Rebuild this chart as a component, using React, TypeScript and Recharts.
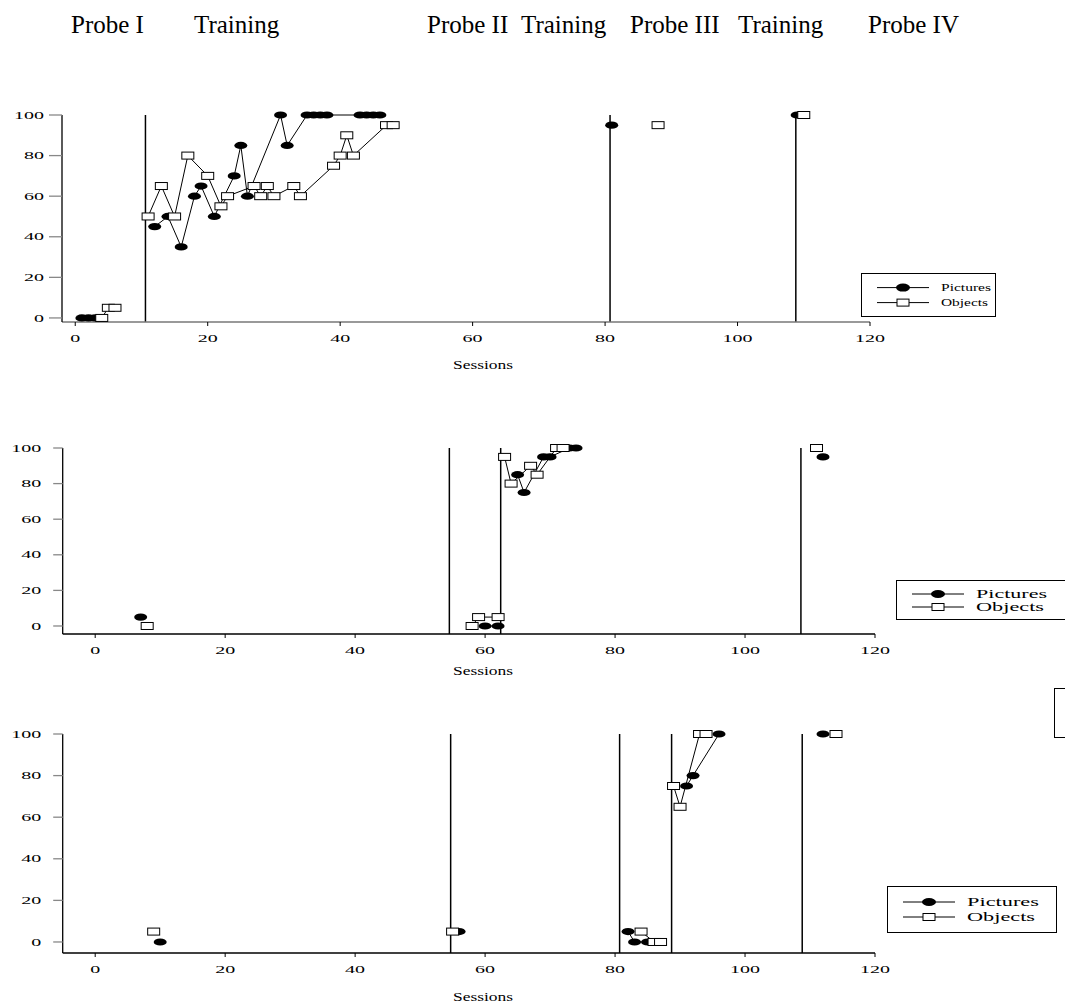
import React from 'react'
import { LineChart, Line, XAxis, YAxis, ReferenceLine, Legend } from 'recharts'

type Pair = [number, number]
type Pt = { session: number; pct: number }

// ---- top panel (sessions, % correct) ----
const aPicturesProbe1: Pair[] = [[1, 0], [2, 0], [3, 0]]
const aPicturesTraining: Pair[] = [
  [12, 45], [14, 50], [16, 35], [18, 60], [19, 65], [21, 50], [24, 70], [25, 85], [26, 60],
  [31, 100], [32, 85], [35, 100], [36, 100], [37, 100], [38, 100], [43, 100], [44, 100], [45, 100], [46, 100],
]
const aPicturesProbe2: Pair[] = [[81, 95]]
const aPicturesProbe4: Pair[] = [[109, 100]]
const aObjectsProbe1: Pair[] = [[4, 0], [5, 5], [6, 5]]
const aObjectsTraining: Pair[] = [
  [11, 50], [13, 65], [15, 50], [17, 80], [20, 70], [22, 55], [23, 60], [27, 65], [28, 60], [29, 65],
  [30, 60], [33, 65], [34, 60], [39, 75], [40, 80], [41, 90], [42, 80], [47, 95], [48, 95],
]
const aObjectsProbe2: Pair[] = [[88, 95]]
const aObjectsProbe4: Pair[] = [[110, 100]]
const aPhaseLines = [10.6, 80.75, 108.8]

// ---- middle panel ----
const bPicturesProbe1: Pair[] = [[7, 5]]
const bPicturesProbe2: Pair[] = [[60, 0], [62, 0]]
const bPicturesTraining: Pair[] = [[65, 85], [66, 75], [69, 95], [70, 95], [73, 100], [74, 100]]
const bPicturesProbe4: Pair[] = [[112, 95]]
const bObjectsProbe1: Pair[] = [[8, 0]]
const bObjectsProbe2: Pair[] = [[58, 0], [59, 5], [62, 5]]
const bObjectsTraining: Pair[] = [[63, 95], [64, 80], [67, 90], [68, 85], [71, 100], [72, 100]]
const bObjectsProbe4: Pair[] = [[111, 100]]
const bPhaseLines = [54.5, 62.4, 108.6]

// ---- bottom panel ----
const cPicturesProbe1: Pair[] = [[10, 0]]
const cPicturesProbe2: Pair[] = [[56, 5]]
const cPicturesProbe3: Pair[] = [[82, 5], [83, 0], [85, 0]]
const cPicturesTraining: Pair[] = [[91, 75], [92, 80], [96, 100]]
const cPicturesProbe4: Pair[] = [[112, 100]]
const cObjectsProbe1: Pair[] = [[9, 5]]
const cObjectsProbe2: Pair[] = [[55, 5]]
const cObjectsProbe3: Pair[] = [[84, 5], [86, 0], [87, 0]]
const cObjectsTraining: Pair[] = [[89, 75], [90, 65], [93, 100], [94, 100]]
const cObjectsProbe4: Pair[] = [[114, 100]]
const cPhaseLines = [54.7, 80.7, 88.7, 108.8]

const xTicks = [0, 20, 40, 60, 80, 100, 120]
const yTicks = [0, 20, 40, 60, 80, 100]
const phaseLabels: { text: string; x: number }[] = [
  { text: 'Probe I', x: 71 },
  { text: 'Training', x: 194 },
  { text: 'Probe II', x: 427 },
  { text: 'Training', x: 521 },
  { text: 'Probe III', x: 630 },
  { text: 'Training', x: 738 },
  { text: 'Probe IV', x: 868 },
]

const SERIF = "'Liberation Serif', 'Times New Roman', serif"
const toPts = (rows: Pair[]): Pt[] => rows.map(([session, pct]) => ({ session, pct }))

const ellipseDot = (p: any) => (
  <ellipse key={`e-${p.index}-${p.cx}`} cx={p.cx} cy={p.cy} rx={6.5} ry={3.6} fill="#000" />
)
const boxDot = (p: any) => (
  <rect key={`r-${p.index}-${p.cx}`} x={p.cx - 6} y={p.cy - 3.5} width={12} height={7} fill="#fff" stroke="#000" strokeWidth={1} />
)

const StretchTick = (props: any) => {
  const { x, y, payload, textAnchor, axis } = props
  const s = String(payload.value)
  return (
    <text
      x={x}
      y={y}
      dy={axis === 'x' ? '0.71em' : '0.34em'}
      textAnchor={textAnchor}
      fontFamily={SERIF}
      fontSize={10.5}
      fill="#000"
      textLength={s.length * 10}
      lengthAdjust="spacingAndGlyphs"
    >
      {s}
    </text>
  )
}

type LegendBox = { left: number; top: number; w: number; h: number; r1: number; r2: number; font: number; l1: number; l2: number }

const legendContent = (b: LegendBox) => () => (
  <svg width={b.w} height={b.h} style={{ display: 'block' }}>
    <rect x={0.5} y={0.5} width={b.w - 1} height={b.h - 1} fill="#fff" stroke="#000" />
    <line x1={16} x2={68} y1={b.r1} y2={b.r1} stroke="#000" />
    <ellipse cx={42} cy={b.r1} rx={7} ry={4} fill="#000" />
    <line x1={16} x2={68} y1={b.r2} y2={b.r2} stroke="#000" />
    <rect x={36} y={b.r2 - 3.5} width={12} height={7} fill="#fff" stroke="#000" />
    <text x={80} y={b.r1} dy="0.34em" fontFamily={SERIF} fontSize={b.font} textLength={b.l1} lengthAdjust="spacingAndGlyphs">Pictures</text>
    <text x={80} y={b.r2} dy="0.34em" fontFamily={SERIF} fontSize={b.font} textLength={b.l2} lengthAdjust="spacingAndGlyphs">Objects</text>
  </svg>
)

type PanelProps = {
  top: number
  height: number
  xMin: number
  yMin: number
  margin: { top: number; right: number; bottom: number; left: number }
  yTickSize: number
  yTickMargin: number
  xAxisColor: string
  pictures: Pair[][]
  objects: Pair[][]
  phases: number[]
  legend: LegendBox
}

function Panel(p: PanelProps) {
  return (
    <div style={{ position: 'absolute', left: 0, top: p.top }}>
      <LineChart width={1065} height={p.height} margin={p.margin}>
        <XAxis
          dataKey="session"
          type="number"
          domain={[p.xMin, 120]}
          ticks={xTicks}
          height={30}
          tickSize={4}
          tickMargin={9}
          axisLine={{ stroke: p.xAxisColor, strokeWidth: 1.3 }}
          tickLine={{ stroke: '#000' }}
          tick={<StretchTick axis="x" />}
        />
        <YAxis
          type="number"
          domain={[p.yMin, 100]}
          ticks={yTicks}
          width={40}
          tickSize={p.yTickSize}
          tickMargin={p.yTickMargin}
          axisLine={{ stroke: '#000', strokeWidth: 1.3 }}
          tickLine={{ stroke: '#888', strokeWidth: 1.3 }}
          tick={<StretchTick axis="y" />}
        />
        {p.phases.map((x) => (
          <ReferenceLine key={`ph-${x}`} x={x} stroke="#000" strokeWidth={1.5} />
        ))}
        {p.pictures.map((seg, i) => (
          <Line
            key={`pic-${i}`}
            data={toPts(seg)}
            dataKey="pct"
            type="linear"
            stroke="#000"
            strokeWidth={1}
            dot={ellipseDot}
            activeDot={false}
            isAnimationActive={false}
          />
        ))}
        {p.objects.map((seg, i) => (
          <Line
            key={`obj-${i}`}
            data={toPts(seg)}
            dataKey="pct"
            type="linear"
            stroke="#000"
            strokeWidth={1}
            dot={boxDot}
            activeDot={false}
            isAnimationActive={false}
          />
        ))}
        <Legend
          layout="horizontal"
          verticalAlign="middle"
          align="center"
          content={legendContent(p.legend)}
          wrapperStyle={{ left: p.legend.left, top: p.legend.top, width: p.legend.w, height: p.legend.h }}
        />
      </LineChart>
    </div>
  )
}

export default function App() {
  return (
    <div style={{ position: 'absolute', left: 0, top: 0, width: 1065, height: 1008, overflow: 'hidden', background: '#fff' }}>
      <Panel
        top={100}
        height={260}
        xMin={-2}
        yMin={-2}
        margin={{ top: 15, right: 195, bottom: 8, left: 22 }}
        yTickSize={13}
        yTickMargin={5}
        xAxisColor="#777"
        pictures={[aPicturesProbe1, aPicturesTraining, aPicturesProbe2, aPicturesProbe4]}
        objects={[aObjectsProbe1, aObjectsTraining, aObjectsProbe2, aObjectsProbe4]}
        phases={aPhaseLines}
        legend={{ left: 861, top: 173, w: 135, h: 44, r1: 14.6, r2: 29.6, font: 11, l1: 50, l2: 47 }}
      />
      <Panel
        top={430}
        height={250}
        xMin={-5}
        yMin={-4.5}
        margin={{ top: 18, right: 190, bottom: 16, left: 22.7 }}
        yTickSize={9.5}
        yTickMargin={12}
        xAxisColor="#000"
        pictures={[bPicturesProbe1, bPicturesProbe2, bPicturesTraining, bPicturesProbe4]}
        objects={[bObjectsProbe1, bObjectsProbe2, bObjectsTraining, bObjectsProbe4]}
        phases={bPhaseLines}
        legend={{ left: 896, top: 150, w: 175, h: 40, r1: 14, r2: 27, font: 13, l1: 71, l2: 68 }}
      />
      <Panel
        top={720}
        height={280}
        xMin={-5}
        yMin={-5.3}
        margin={{ top: 14, right: 190, bottom: 17, left: 22.7 }}
        yTickSize={9.5}
        yTickMargin={12}
        xAxisColor="#000"
        pictures={[cPicturesProbe1, cPicturesProbe2, cPicturesProbe3, cPicturesTraining, cPicturesProbe4]}
        objects={[cObjectsProbe1, cObjectsProbe2, cObjectsProbe3, cObjectsTraining, cObjectsProbe4]}
        phases={cPhaseLines}
        legend={{ left: 887, top: 166, w: 170, h: 47, r1: 16, r2: 31, font: 13, l1: 72, l2: 68 }}
      />
      <svg width={1065} height={1008} style={{ position: 'absolute', left: 0, top: 0, pointerEvents: 'none' }}>
        {phaseLabels.map((l) => (
          <text key={`${l.text}-${l.x}`} x={l.x} y={33} fontFamily={SERIF} fontSize={25} fill="#000">
            {l.text}
          </text>
        ))}
        {[369, 675, 1001].map((y) => (
          <text key={`s-${y}`} x={483} y={y} textAnchor="middle" fontFamily={SERIF} fontSize={13.5} textLength={60} lengthAdjust="spacingAndGlyphs">
            Sessions
          </text>
        ))}
      </svg>
      <div style={{ position: 'absolute', left: 1054, top: 688, width: 20, height: 48, borderLeft: '1.3px solid #000', borderTop: '1.3px solid #000', borderBottom: '1.3px solid #000' }} />
    </div>
  )
}
